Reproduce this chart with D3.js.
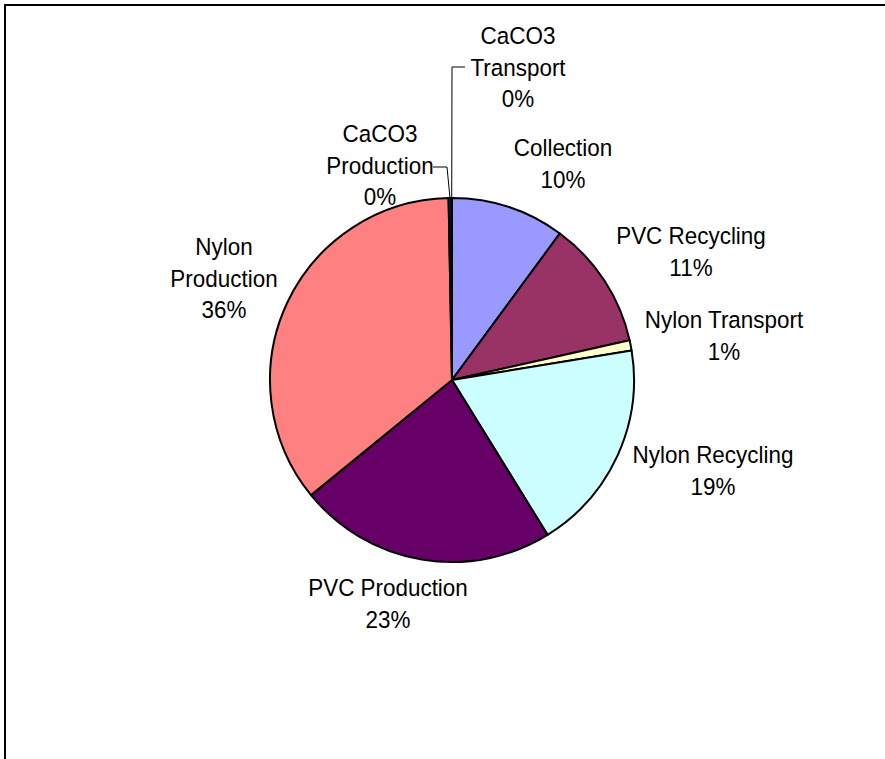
<!DOCTYPE html>
<html>
<head>
<meta charset="utf-8">
<script src="https://cdn.jsdelivr.net/npm/d3@7"></script>
<style>
  html, body { margin: 0; padding: 0; background: #fff; }
  svg { display: block; }
  text { font-family: "Liberation Sans", Arial, sans-serif; font-size: 23.5px; fill: #000; }
</style>
</head>
<body>
<svg id="chart" width="885" height="759"></svg>
<script>
// Emission shares by process stage (percent of total), clockwise from 12 o'clock
const categories = [
  "Collection", "PVC Recycling", "Nylon Transport", "Nylon Recycling",
  "PVC Production", "Nylon Production", "CaCO3 Production", "CaCO3 Transport"
];
const shares = [10.1, 11.4, 0.9, 18.8, 22.9, 35.6, 0.25, 0.05];
const colors = ["#9999FF", "#993366", "#FFFFCC", "#CCFFFF", "#660066", "#FF8080", "#0066CC", "#CCCCFF"];

// label layout: centre x, first-line centre y, lines, optional leader elbow
const labelLayout = [
  { x: 563, y: 148, lines: ["Collection"] },
  { x: 691, y: 236, lines: ["PVC Recycling"] },
  { x: 724, y: 320, lines: ["Nylon Transport"] },
  { x: 713, y: 455, lines: ["Nylon Recycling"] },
  { x: 388, y: 588, lines: ["PVC Production"] },
  { x: 224, y: 247, lines: ["Nylon", "Production"] },
  { x: 380, y: 134, lines: ["CaCO3", "Production"], leader: { from: [433, 167], elbow: [447, 167] } },
  { x: 518, y: 36, lines: ["CaCO3", "Transport"], leader: { from: [465, 67], elbow: [452, 67] } }
];

const svg = d3.select("#chart");
const W = 885, H = 759;

// outer frame (runs off the right and bottom edges)
svg.append("rect")
  .attr("x", 5).attr("y", 5)
  .attr("width", W + 10).attr("height", H + 10)
  .attr("fill", "#fff").attr("stroke", "#000").attr("stroke-width", 2);

const cx = 452, cy = 380, r = 182;
const total = d3.sum(shares);
const data = categories.map((c, i) => ({ name: c, value: shares[i], color: colors[i], layout: labelLayout[i] }));

const pie = d3.pie().value(d => d.value).sort(null);
const arcs = pie(data);
const arc = d3.arc().innerRadius(0).outerRadius(r);

const g = svg.append("g").attr("transform", `translate(${cx},${cy})`);

g.selectAll("path.slice")
  .data(arcs)
  .join("path")
  .attr("class", "slice")
  .attr("d", arc)
  .attr("fill", d => d.data.color)
  .attr("stroke", "#000")
  .attr("stroke-width", 2)
  .attr("stroke-linejoin", "round");

// leader lines for the tiny slices
arcs.forEach(a => {
  const L = a.data.layout.leader;
  if (!L) return;
  const mid = (a.startAngle + a.endAngle) / 2;
  const px = cx + r * Math.sin(mid), py = cy - r * Math.cos(mid);
  svg.append("polyline")
    .attr("points", [L.from, L.elbow, [px, py]].map(p => p.join(",")).join(" "))
    .attr("fill", "none")
    .attr("stroke", "#000")
    .attr("stroke-width", 1);
});

// labels: name lines followed by rounded percentage (slightly condensed type)
const lineH = 31.5;
arcs.forEach(a => {
  const L = a.data.layout;
  const pct = Math.round(a.data.value / total * 100) + "%";
  const lines = L.lines.concat([pct]);
  const t = svg.append("g")
    .attr("transform", `translate(${L.x},${L.y}) scale(0.955,1)`)
    .append("text")
    .attr("text-anchor", "middle")
    .attr("dominant-baseline", "central");
  lines.forEach((s, i) => {
    t.append("tspan").attr("x", 0).attr("y", i * lineH).text(s);
  });
});
</script>
</body>
</html>
